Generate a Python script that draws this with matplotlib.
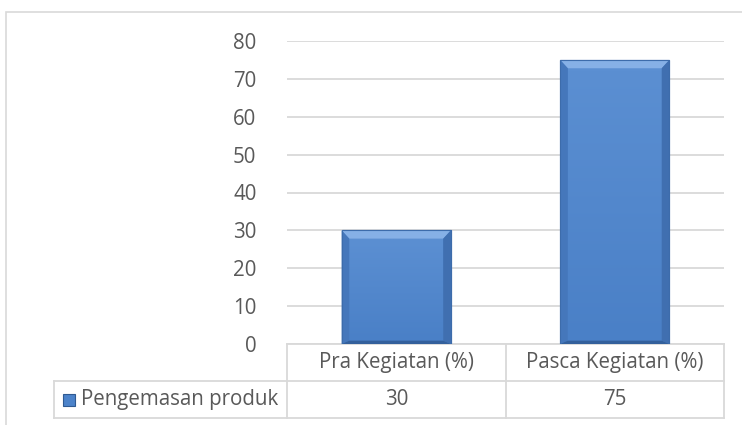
import numpy as np
import matplotlib.pyplot as plt
from matplotlib.patches import Rectangle, Polygon
from matplotlib.lines import Line2D
from matplotlib.colors import LinearSegmentedColormap

# data
categories = ['Pra Kegiatan (%)', 'Pasca Kegiatan (%)']
series_name = 'Pengemasan produk'
values = [30, 75]
y_ticks = [0, 10, 20, 30, 40, 50, 60, 70, 80]

plt.rcParams['font.family'] = ['Open Sans', 'DejaVu Sans']
txt = '#595959'
grid_c = '#d9d9d9'
fs = 14.8

W, H = 742, 425
fig = plt.figure(figsize=(W / 100, H / 100), dpi=100)

# chart border (Excel chart area)
fig.patches.append(Rectangle((6 / W, -0.1), 1.2, 1.1 - 12 / H, transform=fig.transFigure,
                             fill=False, edgecolor=grid_c, linewidth=1.2))

left, right, top, bottom = 287, 724, 41, 344
ax = fig.add_axes([left / W, 1 - bottom / H, (right - left) / W, (bottom - top) / H])

x = np.arange(len(categories))
bars = ax.bar(x, values, width=0.5, color='#4c83ca', edgecolor='#3d6cab', linewidth=0.8, zorder=3)

face_cmap = LinearSegmentedColormap.from_list('face', ['#4a80c7', '#5b8fd2'])

# bevel look on each bar
for b in bars:
    x0, y0 = b.get_x(), b.get_y()
    w, h = b.get_width(), b.get_height()
    dx = w * 0.07
    dy = 2.2
    # face gradient (darker at bottom, lighter at top)
    grad = np.linspace(0, 1, 64).reshape(-1, 1)
    ax.imshow(grad, cmap=face_cmap, origin='lower', aspect='auto', interpolation='bilinear',
              extent=(x0 + dx, x0 + w - dx, y0 + dy * 0.4, y0 + h - dy), zorder=4)
    ax.add_patch(Polygon([(x0, y0 + h), (x0 + w, y0 + h), (x0 + w - dx, y0 + h - dy), (x0 + dx, y0 + h - dy)],
                         closed=True, facecolor='#86b0e6', edgecolor='none', zorder=4))
    ax.add_patch(Polygon([(x0, y0), (x0 + dx, y0 + dy * 0.4), (x0 + dx, y0 + h - dy), (x0, y0 + h)],
                         closed=True, facecolor='#4577bb', edgecolor='none', zorder=4))
    ax.add_patch(Polygon([(x0 + w, y0), (x0 + w - dx, y0 + dy * 0.4), (x0 + w - dx, y0 + h - dy), (x0 + w, y0 + h)],
                         closed=True, facecolor='#406fb0', edgecolor='none', zorder=4))
    ax.add_patch(Polygon([(x0, y0), (x0 + w, y0), (x0 + w - dx, y0 + dy * 0.4), (x0 + dx, y0 + dy * 0.4)],
                         closed=True, facecolor='#33609c', edgecolor='none', zorder=4))
    ax.add_patch(Rectangle((x0, y0), w, h, fill=False, edgecolor='#3d6cab', linewidth=0.8, zorder=5))

ax.set_xlim(-0.5, len(categories) - 0.5)
ax.set_ylim(0, 80)
ax.set_yticks(y_ticks)
ax.set_yticklabels([str(t) for t in y_ticks], color=txt, fontsize=fs)
ax.tick_params(axis='y', length=0, pad=22)
ax.set_xticks([])
ax.yaxis.grid(True, color=grid_c, linewidth=1.3, zorder=0)
for s in ax.spines.values():
    s.set_visible(False)

# data table under the plot
aw = right - left
row_h = 37 / (bottom - top)
key_left = (54 - left) / aw
lkw = dict(transform=ax.transAxes, color=grid_c, linewidth=1.3, clip_on=False)
ax.add_line(Line2D([0, 1], [0, 0], **lkw))
ax.add_line(Line2D([key_left, 1], [-row_h, -row_h], **lkw))
ax.add_line(Line2D([key_left, 1], [-2 * row_h, -2 * row_h], **lkw))
ax.add_line(Line2D([key_left, key_left], [-row_h, -2 * row_h], **lkw))
for i in range(len(categories) + 1):
    xf = i / len(categories)
    ax.add_line(Line2D([xf, xf], [0, -2 * row_h], **lkw))

for i, (c, v) in enumerate(zip(categories, values)):
    xc = (i + 0.5) / len(categories)
    ax.text(xc, -row_h / 2, c, transform=ax.transAxes, ha='center', va='center', color=txt, fontsize=fs)
    ax.text(xc, -1.5 * row_h, str(v), transform=ax.transAxes, ha='center', va='center', color=txt, fontsize=fs)

# legend key in the table
kx = (63 - left) / aw
kw = 12 / aw
kh = 12 / (bottom - top)
ax.add_patch(Rectangle((kx, -1.5 * row_h - kh / 2), kw, kh, transform=ax.transAxes,
                       facecolor='#4c83ca', edgecolor='#2f5a92', linewidth=0.8, clip_on=False))
ax.text((81 - left) / aw, -1.5 * row_h, series_name, transform=ax.transAxes,
        ha='left', va='center', color=txt, fontsize=fs)

plt.savefig('out.png', dpi=100)
